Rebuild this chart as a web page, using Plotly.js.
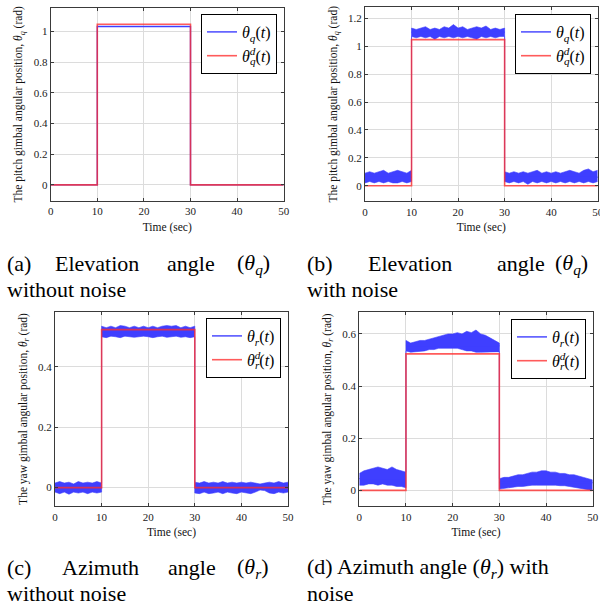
<!DOCTYPE html>
<html><head><meta charset="utf-8">
<script src="https://cdn.plot.ly/plotly-3.0.1.min.js"></script>
<style>html,body{margin:0;padding:0;background:#fff}#chart{width:600px;height:609px}</style>
</head><body><div id="chart"></div>
<script>
// ---- data ----
const tStep = [0,10,10,30,30,50];
const tGap = [0,10,null,10,30,null,30,50];
const refQ = [0,0,1.0472,1.0472,0,0];
const refR = [0,0,0.5236,0.5236,0,0];
const thetaQa = [0,0,1.032,1.032,0,0];
const thetaQbMid = [0.06,0.06,null,1.10,1.10,null,0.06,0.06];
const thetaRcMid = [0,0,null,0.517,0.517,null,0,0];
const thetaRdMid = [0.045,0.045,null,0.555,0.555,null,0.03,0.03];

const tEnv = [0,1,2,3,4,5,6,7,8,9,10,
  10,11,12,13,14,15,16,17,18,19,20,21,22,23,24,25,26,27,28,29,30,
  30,31,32,33,34,35,36,37,38,39,40,41,42,43,44,45,46,47,48,49,50];

const bUpper = [0.09,0.10,0.09,0.10,0.11,0.09,0.10,0.11,0.10,0.09,0.11,
  1.13,1.12,1.13,1.14,1.12,1.13,1.12,1.14,1.13,1.155,1.13,1.14,1.12,1.13,1.14,1.13,1.145,1.12,1.13,1.12,1.13,
  0.10,0.09,0.10,0.09,0.10,0.09,0.10,0.11,0.09,0.10,0.09,0.10,0.09,0.10,0.11,0.10,0.09,0.11,0.12,0.10,0.11];
const bLower = [0.02,0.03,0.02,0.03,0.02,0.03,0.02,0.02,0.03,0.02,0.03,
  1.07,1.06,1.07,1.06,1.07,1.05,1.07,1.06,1.07,1.06,1.07,1.06,1.07,1.06,1.05,1.07,1.06,1.07,1.06,1.07,1.07,
  0.03,0.02,0.03,0.02,0.03,0.01,0.03,0.02,0.03,0.02,0.03,0.02,0.03,0.02,0.03,0.02,0.03,0.02,0.03,0.02,0.03];

const cUpper = [0.015,0.02,0.015,0.018,0.012,0.02,0.015,0.018,0.015,0.02,0.015,
  0.535,0.53,0.535,0.53,0.537,0.535,0.53,0.535,0.53,0.535,0.53,0.535,0.53,0.535,0.537,0.535,0.537,0.53,0.535,0.53,0.535,
  0.018,0.015,0.02,0.015,0.018,0.015,0.02,0.015,0.018,0.015,0.018,0.015,0.018,0.015,0.012,0.015,0.018,0.015,0.02,0.015,0.018];
const cLower = [-0.015,-0.02,-0.015,-0.022,-0.015,-0.018,-0.015,-0.02,-0.015,-0.018,-0.015,
  0.50,0.497,0.502,0.50,0.497,0.502,0.50,0.498,0.50,0.502,0.50,0.497,0.50,0.502,0.498,0.50,0.502,0.498,0.50,0.497,0.50,
  -0.018,-0.02,-0.015,-0.02,-0.018,-0.015,-0.02,-0.015,-0.018,-0.02,-0.015,-0.018,-0.02,-0.015,-0.008,-0.01,-0.018,-0.02,-0.015,-0.018,-0.015];

const dUpper = [0.065,0.075,0.08,0.085,0.09,0.085,0.08,0.09,0.08,0.075,0.07,
  0.575,0.565,0.57,0.575,0.575,0.58,0.585,0.59,0.595,0.60,0.60,0.605,0.60,0.61,0.605,0.615,0.60,0.595,0.585,0.575,0.565,
  0.045,0.05,0.05,0.055,0.06,0.06,0.065,0.07,0.07,0.075,0.075,0.07,0.07,0.065,0.065,0.06,0.06,0.055,0.05,0.045,0.04];
const dLower = [0.02,0.02,0.025,0.025,0.02,0.025,0.02,0.02,0.015,0.015,0.01,
  0.535,0.53,0.532,0.535,0.535,0.54,0.54,0.545,0.545,0.545,0.545,0.545,0.54,0.535,0.535,0.53,0.53,0.53,0.53,0.53,0.532,
  0.005,0.008,0.01,0.012,0.015,0.015,0.018,0.02,0.02,0.02,0.022,0.02,0.02,0.018,0.018,0.015,0.012,0.01,0.008,0.005,0.0];

const xTicks = [0,10,20,30,40,50];
const yTicksA = [0,0.2,0.4,0.6,0.8,1];
const yTicksB = [0,0.2,0.4,0.6,0.8,1,1.2];
const yTicksC = [0,0.2,0.4];
const yTicksD = [0,0.2,0.4,0.6];

const nameQ = '<i>θ</i><sub><i>q</i></sub>(<i>t</i>)';
const nameQd = '<i>θ</i><sup><span style="letter-spacing:-5.5px"><i>d</i></span></sup><sub><i>q</i></sub>(<i>t</i>)';
const nameR = '<i>θ</i><sub><i>r</i></sub>(<i>t</i>)';
const nameRd = '<i>θ</i><sup><span style="letter-spacing:-5.5px"><i>d</i></span></sup><sub><i>r</i></sub>(<i>t</i>)';

// ---- styles ----
const BLUE = '#3f3fff';
const RED = 'rgba(255,45,45,0.78)';
const W = 600, H = 609;

function band(xa, ya, lower, upper) {
  return [
    {x: tEnv, y: lower, xaxis: xa, yaxis: ya, mode: 'lines', line: {width: 0.6, color: BLUE}, showlegend: false, hoverinfo: 'skip'},
    {x: tEnv, y: upper, xaxis: xa, yaxis: ya, mode: 'lines', fill: 'tonexty', fillcolor: BLUE, line: {width: 0.6, color: BLUE}, showlegend: false, hoverinfo: 'skip'}
  ];
}
function line(xa, ya, x, y, name, color, width, leg) {
  return {x: x, y: y, xaxis: xa, yaxis: ya, mode: 'lines', name: name, connectgaps: false, line: {color: color, width: width}, legend: leg};
}

const traces = [
  line('x', 'y', tStep, thetaQa, nameQ, BLUE, 1.4, 'legend'),
  line('x', 'y', tStep, refQ, nameQd, RED, 1.6, 'legend'),
  ...band('x2', 'y2', bLower, bUpper),
  line('x2', 'y2', tGap, thetaQbMid, nameQ, BLUE, 1.4, 'legend2'),
  line('x2', 'y2', tStep, refQ, nameQd, RED, 1.6, 'legend2'),
  ...band('x3', 'y3', cLower, cUpper),
  line('x3', 'y3', tGap, thetaRcMid, nameR, BLUE, 1.4, 'legend3'),
  line('x3', 'y3', tStep, refR, nameRd, RED, 1.6, 'legend3'),
  ...band('x4', 'y4', dLower, dUpper),
  line('x4', 'y4', tGap, thetaRdMid, nameR, BLUE, 1.4, 'legend4'),
  line('x4', 'y4', tStep, refR, nameRd, RED, 1.6, 'legend4')
];

const FONT = '"Liberation Serif", "Times New Roman", serif';
const axBase = {
  showline: true, mirror: 'allticks', linecolor: '#3a3a3a', linewidth: 1,
  ticks: 'inside', ticklen: 3, tickcolor: '#3a3a3a', tickwidth: 1,
  showgrid: true, gridcolor: '#dcdcdc', gridwidth: 1, zeroline: false, ticklabeloverflow: 'allow',
  tickfont: {family: FONT, size: 11, color: '#222'}, automargin: false, fixedrange: true
};
function xax(dom, anchor) {
  return Object.assign({}, axBase, {domain: dom, anchor: anchor, range: [0, 50], tickmode: 'array', tickvals: xTicks,
    title: {text: 'Time (sec)', font: {family: FONT, size: 11.5, color: '#111'}, standoff: 6}});
}
function yax(dom, anchor, rng, ticks, label) {
  return Object.assign({}, axBase, {domain: dom, anchor: anchor, range: rng, tickmode: 'array', tickvals: ticks,
    title: {text: label, font: {family: FONT, size: 11.5, color: '#111'}, standoff: 8}});
}
const px = v => v / W;
const py = v => 1 - v / H;
const labQ = 'The pitch gimbal angular position, <i>θ<sub>q</sub></i> (rad)';
const labR = 'The yaw gimbal angular position, <i>θ<sub>r</sub></i> (rad)';

const legBase = {bgcolor: '#fff', bordercolor: '#000', borderwidth: 1, traceorder: 'normal',
  font: {family: FONT, size: 16, color: '#000'}, xanchor: 'right', yanchor: 'top', itemwidth: 30, tracegroupgap: 0};

// caption words: [text, left px, baseline px]
const CAP = 22;
const capWords = [
  ['(a)', 7, 271], ['Elevation', 55, 271], ['angle', 167, 271], ['(<i>θ<sub>q</sub></i>)', 237, 271],
  ['without noise', 7, 297],
  ['(b)', 307, 271], ['Elevation', 368, 271], ['angle', 497, 271], ['(<i>θ<sub>q</sub></i>)', 555, 271],
  ['with noise', 307, 297],
  ['(c)', 7, 575], ['Azimuth', 62, 575], ['angle', 168, 575], ['(<i>θ<sub>r</sub></i>)', 237, 575],
  ['without noise', 7, 601],
  ['(d) Azimuth angle (<i>θ<sub>r</sub></i>) with', 307, 575],
  ['noise', 307, 601]
];
const annotations = capWords.map(([t, x, b]) => ({
  text: t, x: px(x - 2), y: py(b - 7.5), xref: 'paper', yref: 'paper', xanchor: 'left', yanchor: 'middle',
  showarrow: false, font: {family: FONT, size: CAP, color: '#000'}
}));

const layout = {
  width: W, height: H, margin: {l: 0, r: 0, t: 0, b: 0},
  paper_bgcolor: '#fff', plot_bgcolor: '#fff',
  xaxis: xax([px(50.7), px(283.7)], 'y'),
  yaxis: yax([py(201), py(7.7)], 'x', [-0.105, 1.155], yTicksA, labQ),
  xaxis2: xax([px(365), px(597.7)], 'y2'),
  yaxis2: yax([py(201.3), py(7.3)], 'x2', [-0.112, 1.279], yTicksB, labQ),
  xaxis3: xax([px(55), px(288)], 'y3'),
  yaxis3: yax([py(506.3), py(311.7)], 'x3', [-0.062, 0.583], yTicksC, labR),
  xaxis4: xax([px(359.3), px(592.7)], 'y4'),
  yaxis4: yax([py(506.3), py(312.3)], 'x4', [-0.061, 0.683], yTicksD, labR),
  legend: Object.assign({}, legBase, {x: px(277), y: py(14)}),
  legend2: Object.assign({}, legBase, {x: px(591), y: py(14)}),
  legend3: Object.assign({}, legBase, {x: px(281), y: py(318)}),
  legend4: Object.assign({}, legBase, {x: px(586), y: py(319)}),
  annotations: annotations,
  showlegend: true
};

Plotly.newPlot('chart', traces, layout, {displayModeBar: false, staticPlot: true});
</script></body></html>
